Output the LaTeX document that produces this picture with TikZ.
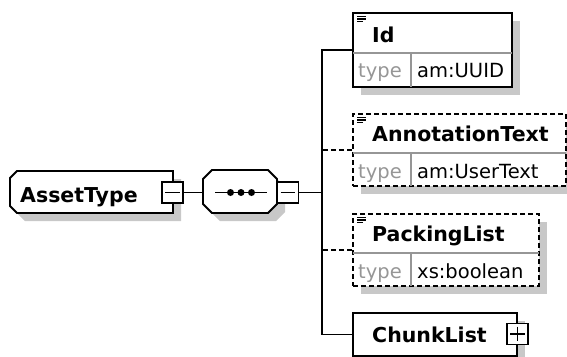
\documentclass[tikz,border=0pt]{standalone}
\usepackage{fontspec}
\setmainfont{DejaVu Sans}
\usetikzlibrary{shadows}
\definecolor{shd}{RGB}{200,200,200}
\definecolor{divc}{RGB}{150,150,150}
\definecolor{typec}{RGB}{150,150,150}
\newcommand\titlefont{\fontsize{20.5pt}{24pt}\selectfont\bfseries}
\newcommand\rowfont{\fontsize{19.5pt}{23pt}\selectfont}
\tikzset{
  shdw/.style={drop shadow={shadow xshift=8pt, shadow yshift=-8pt, fill=shd, opacity=1}},
  elbox/.style={draw, fill=white, rectangle, inner sep=0pt, line width=1.8pt, shdw},
  optbox/.style={elbox, dash pattern=on 5pt off 3pt},
  expbox/.style={draw, fill=white, rectangle, inner sep=0pt, minimum width=21pt, minimum height=21pt, line width=1.8pt},
  conn/.style={draw, line width=1.8pt},
  optconn/.style={conn, dash pattern=on 5pt off 3pt},
  divline/.style={draw=divc, line width=1.2pt},
  ttl/.style={anchor=base west, inner sep=0pt, font=\titlefont},
  typetxt/.style={anchor=base west, inner sep=0pt, font=\rowfont, text=typec},
  valtxt/.style={anchor=base west, inner sep=0pt, font=\rowfont},
  docicon/.style={line width=1.2pt}
}
\begin{document}
\begin{tikzpicture}[x=1pt,y=-1pt]
\useasboundingbox (0,0) rectangle (567,356);
\clip (0,0) rectangle (567,356);
\fill[white] (0,0) rectangle (567,356);

% AssetType (complex type)
\path[draw, fill=white, line width=1.8pt, shdw]
  (17,171) -- (173,171) -- (173,213) -- (17,213) -- (10,206) -- (10,178) -- cycle;
\node[ttl] (tAsset) at (20,202) {AssetType};
\node[expbox] (m1) at (172.5,192.5) {};
\draw[line width=1.3pt] ([xshift=4pt]m1.west) -- ([xshift=-4pt]m1.east);

% sequence compositor
\path[draw, fill=white, line width=1.8pt, shdw]
  (212,170) -- (268,170) -- (277,179) -- (277,204) -- (268,213) -- (212,213) -- (203,204) -- (203,179) -- cycle;
\coordinate (seqW) at (203,192.5);
\draw[line width=1.3pt] (215,192.5) -- (267,192.5);
\foreach \cx in {230.5,241,251.5} \fill (\cx,192.5) circle (3.5pt);
\node[expbox] (m2) at (288,192.5) {};
\draw[line width=1.3pt] ([xshift=4pt]m2.west) -- ([xshift=-4pt]m2.east);

% elements
\node[elbox, minimum width=159pt, minimum height=74pt] (id) at (432.5,50) {};
\node[optbox, minimum width=213pt, minimum height=72pt] (ann) at (459.5,150) {};
\node[optbox, minimum width=186pt, minimum height=72pt] (pack) at (446,250) {};
\node[elbox, minimum width=164pt, minimum height=43pt] (chunk) at (435,334.5) {};

% dividers
\path[divline] (353,53) -- (512,53) (411,53) -- (411,87);
\path[divline] (353,153) -- (566,153) (411,153) -- (411,186);
\path[divline] (353,253) -- (539,253) (411,253) -- (411,286);

% doc icons
\foreach \yy in {13,114,214}{
  \draw[docicon] (357,\yy+3.5) -- (366,\yy+3.5) (357,\yy+6) -- (366,\yy+6) (357,\yy+8.5) -- (363,\yy+8.5);
}

% texts
\node[ttl] (tId) at (372,42) {Id};
\node[typetxt] (ty1) at (358,77) {type};
\node[valtxt] (v1) at (417,77) {am:UUID};
\node[ttl] (tAnn) at (372,141) {AnnotationText};
\node[typetxt] (ty2) at (358,178) {type};
\node[valtxt] (v2) at (417,178) {am:UserText};
\node[ttl] (tPack) at (372,241) {PackingList};
\node[typetxt] (ty3) at (358,278) {type};
\node[valtxt] (v3) at (417,278) {xs:boolean};
\node[ttl] (tChunk) at (372,342) {ChunkList};
\node[expbox] (p1) at (517.5,334) {};
\draw[line width=1.3pt] ([xshift=4pt]p1.west) -- ([xshift=-4pt]p1.east)
  ([yshift=-4pt]p1.north) -- ([yshift=4pt]p1.south);

% connectors
\coordinate (sp) at (322,192.5);
\path[conn] (m1.east) -- (seqW);
\path[conn] (m2.east) -- (sp);
\path[conn] (id.west) -| (sp);
\path[conn] (chunk.west) -| (sp);
\path[optconn] (ann.west) -- (ann.west -| sp);
\path[optconn] (pack.west) -- (pack.west -| sp);
\end{tikzpicture}
\end{document}
